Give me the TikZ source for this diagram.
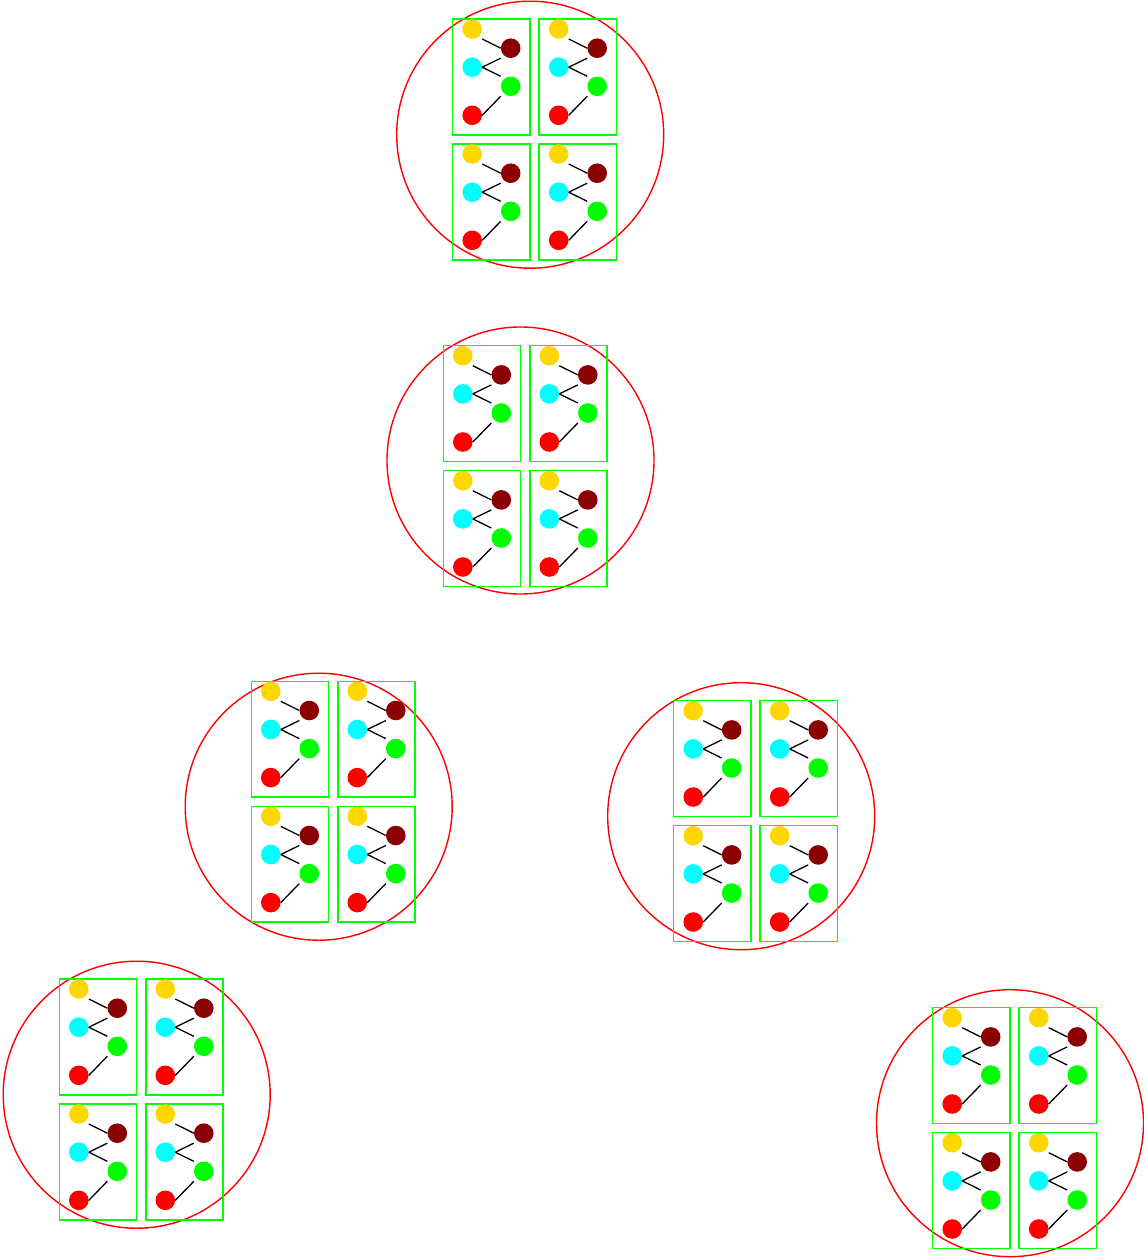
\documentclass[tikz,border=0pt]{standalone}
\definecolor{goldc}{RGB}{255,215,0}
\definecolor{darkredc}{RGB}{139,0,0}
\definecolor{cyanc}{RGB}{0,255,255}
\definecolor{greenc}{RGB}{0,255,0}
\definecolor{redc}{RGB}{255,0,0}
\tikzset{
  ring/.style={circle, draw=redc, line width=1.4pt, inner sep=0pt, minimum size=267pt},
  boxline/.style={draw=greenc, line width=1.5pt},
  dot/.style={rectangle, inner sep=0pt, minimum size=19.6pt,
    path picture={\fill[#1] (path picture bounding box.center) circle (9.8pt);}},
  link/.style={draw=black, line width=1.3pt},
  unitbox/.pic={
    \draw[boxline] (0,0) rectangle (77.3,115.8);
    \node[dot=goldc] (g) at (19.5,10) {};
    \node[dot=darkredc] (d) at (58,29.2) {};
    \node[dot=cyanc] (c) at (19.5,48.2) {};
    \node[dot=greenc] (n) at (58,67.3) {};
    \node[dot=redc] (r) at (19.5,96.3) {};
    \draw[link] (g.south east) -- (d.west);
    \draw[link] (c.east) -- (d.south west);
    \draw[link] (c.east) -- (n.north west);
    \draw[link] (n.south west) -- (r.east);
  }
}
\begin{document}
\begin{tikzpicture}[x=1pt,y=-1pt]
\useasboundingbox (0,0) rectangle (1143,1258);
\foreach \k/\bx/\by/\cx/\cy in {1/452.7/19/530.2/134.7,
                                2/443.3/345.7/520.5/460.5,
                                3/251.3/681.3/318.7/806.7,
                                4/673.7/700.7/741.2/816.2,
                                5/59.3/979/136.7/1094.7,
                                6/932.7/1007.7/1010/1123.2}{
  \node[ring] (ring\k) at (\cx,\cy) {};
  \pic (u\k-a-) at (\bx,\by) {unitbox};
  \pic (u\k-b-) at (\bx+86.5,\by) {unitbox};
  \pic (u\k-c-) at (\bx,\by+125) {unitbox};
  \pic (u\k-d-) at (\bx+86.5,\by+125) {unitbox};
}
\end{tikzpicture}
\end{document}
